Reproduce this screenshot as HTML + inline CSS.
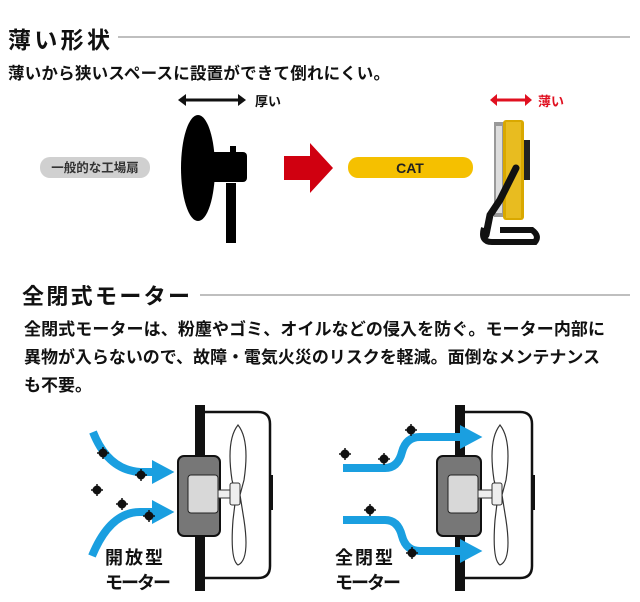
<!DOCTYPE html>
<html><head><meta charset="utf-8"><style>
html,body{margin:0;padding:0;background:#fff;}
svg{display:block;}
text{font-family:"Liberation Sans","Noto Sans CJK JP",sans-serif;font-weight:bold;}
</style></head><body>
<svg width="640" height="602" viewBox="0 0 640 602" xmlns="http://www.w3.org/2000/svg">
<defs>
<marker id="bh" markerWidth="2.8" markerHeight="3" refX="1" refY="1.5" orient="auto" markerUnits="strokeWidth"><path d="M0,0 L2.8,1.5 L0,3 Z" fill="#1a9fe0"/></marker>
</defs>
<!-- Section 1 -->
<text x="8" y="48" font-size="23" textLength="102" fill="#111">薄い形状</text>
<line x1="118" y1="37" x2="630" y2="37" stroke="#aaa" stroke-width="1.5"/>
<text x="8" y="79" font-size="16.5" textLength="382" fill="#111">薄いから狭いスペースに設置ができて倒れにくい。</text>

<line x1="182" y1="100" x2="242" y2="100" stroke="#111" stroke-width="3"/>
<path d="M178,100 L186,94 L186,106 Z" fill="#111"/>
<path d="M246,100 L238,94 L238,106 Z" fill="#111"/>
<text x="255" y="106" font-size="13" fill="#111">厚い</text>

<rect x="40" y="157" width="110" height="21" rx="10" fill="#d0d0d0"/>
<text x="95" y="172" font-size="12.5" text-anchor="middle" fill="#333">一般的な工場扇</text>

<ellipse cx="198" cy="168" rx="17" ry="53" fill="#000"/>
<rect x="205" y="152" width="42" height="30" rx="4" fill="#000"/>
<rect x="230" y="146" width="6" height="8" fill="#000"/>
<rect x="226" y="183" width="10" height="60" fill="#000"/>

<path d="M284,156 L310,156 L310,143 L333,168 L310,193 L310,180 L284,180 Z" fill="#d00010"/>

<rect x="348" y="157" width="125" height="21" rx="10" fill="#f5c000"/>
<text x="410" y="173" font-size="14" text-anchor="middle" fill="#222">CAT</text>

<line x1="494" y1="100" x2="528" y2="100" stroke="#e01020" stroke-width="3"/>
<path d="M490,100 L497,94 L497,106 Z" fill="#e01020"/>
<path d="M532,100 L525,94 L525,106 Z" fill="#e01020"/>
<text x="538" y="106" font-size="13" fill="#e01020">薄い</text>

<rect x="494" y="122" width="10" height="95" fill="#999"/>
<rect x="496" y="126" width="6" height="87" fill="#ddd"/>
<rect x="503" y="120" width="21" height="100" rx="3" fill="#d9a800"/>
<rect x="506" y="122" width="15" height="96" fill="#e8bc20"/>
<rect x="524" y="140" width="6" height="40" fill="#222"/>
<path d="M516,168 L500,200 L490,215 L486,235" stroke="#111" stroke-width="7" fill="none" stroke-linecap="round"/>
<path d="M484,228 Q480,242 492,242 L535,242 Q540,236 532,230 L500,230" stroke="#111" stroke-width="6" fill="none"/>

<!-- Section 2 -->
<text x="22" y="304" font-size="22" textLength="168" fill="#111">全閉式モーター</text>
<line x1="200" y1="295" x2="630" y2="295" stroke="#aaa" stroke-width="1.5"/>
<text x="24" y="335" font-size="17" textLength="581" fill="#111">全閉式モーターは、粉塵やゴミ、オイルなどの侵入を防ぐ。モーター内部に</text>
<text x="24" y="363" font-size="17" textLength="576" fill="#111">異物が入らないので、故障・電気火災のリスクを軽減。面倒なメンテナンス</text>
<text x="24" y="391" font-size="17" fill="#111">も不要。</text>

<!-- Left diagram -->
<g>
<path d="M204,412 L258,412 Q270,412 270,424 L270,566 Q270,578 258,578 L204,578" fill="none" stroke="#111" stroke-width="2.5"/>
<rect x="270" y="475" width="3" height="35" fill="#111"/>
<rect x="195" y="405" width="10" height="186" fill="#111"/>
<path d="M238,425 Q250,440 244,480 L240,495 L244,520 Q250,560 238,565 Q230,560 233,520 L236,495 L232,480 Q226,440 238,425 Z" fill="#fff" stroke="#333" stroke-width="1.2"/>
<rect x="178" y="456" width="42" height="80" rx="6" fill="#777" stroke="#111" stroke-width="2"/>
<rect x="188" y="475" width="30" height="38" rx="3" fill="#d8d8d8" stroke="#222" stroke-width="1"/>
<rect x="218" y="490" width="12" height="8" fill="#eee" stroke="#333" stroke-width="1"/>
<rect x="230" y="483" width="10" height="22" rx="2" fill="#eee" stroke="#333" stroke-width="1"/>
<path d="M93,432 Q108,470 140,472 L160,472" fill="none" stroke="#1a9fe0" stroke-width="8" marker-end="url(#bh)"/>
<path d="M92,556 Q110,512 140,512 L160,512" fill="none" stroke="#1a9fe0" stroke-width="8" marker-end="url(#bh)"/>
<text x="105" y="564" font-size="18" textLength="58" fill="#111">開放型</text>
<text x="105" y="589" font-size="18" textLength="66" fill="#111">モーター</text>
</g>

<!-- Right diagram -->
<g>
<path d="M465,412 L520,412 Q532,412 532,424 L532,566 Q532,578 520,578 L465,578" fill="none" stroke="#111" stroke-width="2.5"/>
<rect x="532" y="475" width="3" height="35" fill="#111"/>
<rect x="455" y="405" width="10" height="186" fill="#111"/>
<path d="M500,425 Q512,440 506,480 L502,495 L506,520 Q512,560 500,565 Q492,560 495,520 L498,495 L494,480 Q488,440 500,425 Z" fill="#fff" stroke="#333" stroke-width="1.2"/>
<rect x="437" y="456" width="44" height="80" rx="6" fill="#777" stroke="#111" stroke-width="2"/>
<rect x="448" y="475" width="30" height="38" rx="3" fill="#d8d8d8" stroke="#222" stroke-width="1"/>
<rect x="478" y="490" width="14" height="8" fill="#eee" stroke="#333" stroke-width="1"/>
<rect x="492" y="483" width="10" height="22" rx="2" fill="#eee" stroke="#333" stroke-width="1"/>
<path d="M343,468 L385,468 Q398,468 402,452 Q406,437 420,437 L468,437" fill="none" stroke="#1a9fe0" stroke-width="8" marker-end="url(#bh)"/>
<path d="M343,520 L385,520 Q398,520 402,536 Q406,551 420,551 L468,551" fill="none" stroke="#1a9fe0" stroke-width="8" marker-end="url(#bh)"/>
<text x="335" y="564" font-size="18" textLength="58" fill="#111">全閉型</text>
<text x="335" y="589" font-size="18" textLength="66" fill="#111">モーター</text>
</g>

<g fill="#111">
<circle cx="103" cy="453" r="4.5"/><circle cx="141" cy="475" r="4.5"/><circle cx="97" cy="490" r="4.5"/>
<circle cx="122" cy="504" r="4.5"/><circle cx="149" cy="516" r="4.5"/>
<circle cx="345" cy="454" r="4.5"/><circle cx="384" cy="459" r="4.5"/><circle cx="411" cy="430" r="4.5"/>
<circle cx="370" cy="510" r="4.5"/><circle cx="412" cy="553" r="4.5"/>
</g>
<g stroke="#111" stroke-width="1.5">
<path d="M97,453h12M103,447v12M141,469v12M135,475h12M91,490h12M97,484v12M116,504h12M122,498v12M143,516h12M149,510v12M339,454h12M345,448v12M378,459h12M384,453v12M405,430h12M411,424v12M364,510h12M370,504v12M406,553h12M412,547v12"/>
</g>
</svg>
</body></html>
